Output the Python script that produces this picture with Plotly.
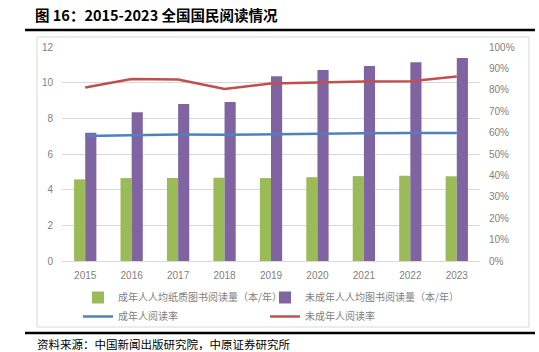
import plotly.graph_objects as go

years = ["2015", "2016", "2017", "2018", "2019", "2020", "2021", "2022", "2023"]
adult_paper_books = [4.58, 4.65, 4.66, 4.67, 4.65, 4.70, 4.76, 4.78, 4.75]
minor_books = [7.19, 8.34, 8.81, 8.91, 10.36, 10.71, 10.93, 11.14, 11.39]
adult_rate = [0.584, 0.588, 0.591, 0.590, 0.593, 0.595, 0.597, 0.598, 0.598]
minor_rate = [0.811, 0.850, 0.848, 0.804, 0.829, 0.834, 0.839, 0.840, 0.862]

names = ["成年人人均纸质图书阅读量（本/年）", "未成年人人均图书阅读量（本/年）", "成年人阅读率", "未成年人阅读率"]

W, H = 539, 352
L, R, T, B = 62, 480, 47, 261

def px(x):
    return (x - L) / (R - L)

def py(y):
    return (B - y) / (B - T)

fig = go.Figure()
fig.add_trace(go.Bar(x=years, y=adult_paper_books, name=names[0], marker_color="#9BBB59",
                     marker_line_width=0))
fig.add_trace(go.Bar(x=years, y=minor_books, name=names[1], marker_color="#8064A2",
                     marker_line_width=0))
fig.add_trace(go.Scatter(x=years, y=adult_rate, name=names[2], yaxis="y2", mode="lines",
                         line=dict(color="#4F81BD", width=2.5)))
fig.add_trace(go.Scatter(x=years, y=minor_rate, name=names[3], yaxis="y2", mode="lines",
                         line=dict(color="#C0504D", width=2.5)))

tickfont = dict(family="Liberation Sans, Arial, sans-serif", size=10, color="#7f7f7f")

fig.update_layout(
    width=W, height=H,
    margin=dict(l=L, r=W - R, t=T, b=H - B, autoexpand=False),
    paper_bgcolor="white", plot_bgcolor="white",
    barmode="group", bargap=0.52, bargroupgap=0,
    showlegend=True,
    legend=dict(orientation="h", x=px(78), y=py(283), xanchor="left", yanchor="top",
                entrywidth=142, entrywidthmode="pixels", traceorder="normal",
                font=dict(family="Noto Sans CJK SC", size=10, color="#7f7f7f"),
                itemwidth=30, tracegroupgap=0, bgcolor="rgba(0,0,0,0)"),
    xaxis=dict(showgrid=False, showline=True, linecolor="#d9d9d9", linewidth=1,
               ticks="", tickfont=tickfont, ticklabelstandoff=5),
    yaxis=dict(range=[0, 12], dtick=2, showgrid=True, gridcolor="#d9d9d9", gridwidth=1,
               zeroline=False, showline=False, tickfont=tickfont, ticklabelstandoff=8),
    yaxis2=dict(range=[0, 1], dtick=0.1, tickformat=".0%", overlaying="y", side="right",
                showgrid=False, zeroline=False, showline=False, tickfont=tickfont,
                ticklabelstandoff=8),
    title=dict(text="<b>图 16：2015-2023 全国国民阅读情况</b>", x=35 / W, y=1 - 16 / H,
               xanchor="left", yanchor="middle", xref="container", yref="container",
               font=dict(family="Noto Sans CJK SC", size=14.5, color="black")),
)

fig.add_annotation(text="资料来源：中国新闻出版研究院，中原证券研究所", xref="paper", yref="paper",
                   x=px(35), y=py(344), xanchor="left", yanchor="middle", showarrow=False,
                   font=dict(family="Noto Sans CJK SC", size=11.5, color="black"))

# frame and rules
fig.add_shape(type="rect", xref="paper", yref="paper", x0=px(37), x1=px(529), y0=py(37), y1=py(327),
              line=dict(color="#d9d9d9", width=1), layer="below")
fig.add_shape(type="line", xref="paper", yref="paper", x0=px(25), x1=px(535), y0=py(30), y1=py(30),
              line=dict(color="black", width=2.5))
fig.add_shape(type="line", xref="paper", yref="paper", x0=px(25), x1=px(535), y0=py(333), y1=py(333),
              line=dict(color="black", width=2.5))

fig.write_html("out.html")
